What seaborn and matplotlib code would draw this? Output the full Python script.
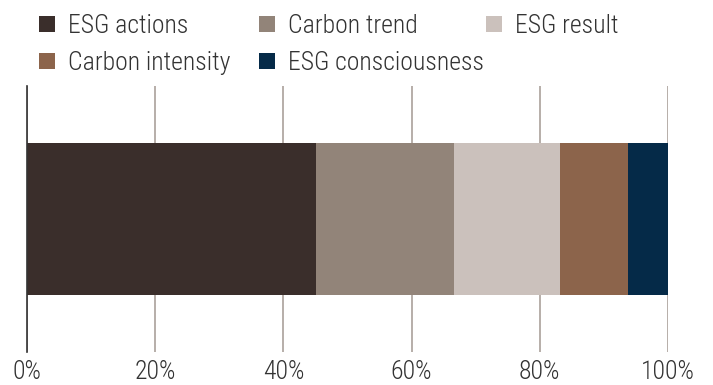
import matplotlib
matplotlib.use("Agg")
import matplotlib.pyplot as plt
from matplotlib.patches import Patch
import seaborn as sns
import numpy as np
import pandas as pd

categories = ["ESG actions", "Carbon trend", "ESG result", "Carbon intensity", "ESG consciousness"]
values = [45.1, 21.5, 16.6, 10.6, 6.2]
colors = ["#3a2e2b", "#928479", "#cbc1bc", "#8c644b", "#052a48"]
tick_values = [0, 20, 40, 60, 80, 100]
tick_labels = ["0%", "20%", "40%", "60%", "80%", "100%"]

sns.set_style("white")
plt.rcParams["font.family"] = ["Roboto Condensed", "DejaVu Sans"]
plt.rcParams["font.weight"] = "light"

W, H = 713, 385
fig = plt.figure(figsize=(W / 100, H / 100), dpi=100)
ax = fig.add_axes([27 / W, 1 - 352 / H, (668 - 27) / W, (352 - 86) / H])

cum = np.cumsum(values)
df = pd.DataFrame({"series": categories, "cum": cum, "row": ["all"] * len(categories)})
for i in range(len(categories) - 1, -1, -1):
    sns.barplot(data=df.iloc[[i]], x="cum", y="row", color=colors[i], width=0.571,
                saturation=1, ax=ax, orient="h", linewidth=0, zorder=2)

ax.set_xlim(0, 100)
ax.set_ylim(0.5, -0.5)
ax.set_xticks(tick_values)
ax.set_xticklabels(tick_labels, fontweight="light")
ax.set_yticks([])
ax.set_xlabel("")
ax.set_ylabel("")
ax.tick_params(axis="x", length=0, pad=6, labelsize=18.5, labelcolor="#333333")
ax.grid(axis="x", color="#aaa19b", linewidth=1.2, zorder=0)
ax.set_axisbelow(True)
for s in ["top", "right", "bottom"]:
    ax.spines[s].set_visible(False)
ax.spines["left"].set_color("#333333")
ax.spines["left"].set_linewidth(1.2)
ax.spines["left"].set_zorder(3)

# legend items laid out in a grid (row-major)
leg_x = [39, 259, 486, 39, 259]
leg_y = [26, 26, 26, 63, 63]
for c, l, lx, ly in zip(colors, categories, leg_x, leg_y):
    h = Patch(facecolor=c, edgecolor="none", label=l)
    fig.legend([h], [l], loc="center left", bbox_to_anchor=(lx / W, 1 - ly / H),
               frameon=False, prop={"size": 18.5, "weight": "light"},
               handlelength=0.62, handleheight=0.62,
               handletextpad=0.5, borderpad=0, borderaxespad=0, labelcolor="#333333")

fig.savefig("out.png", dpi=100)
